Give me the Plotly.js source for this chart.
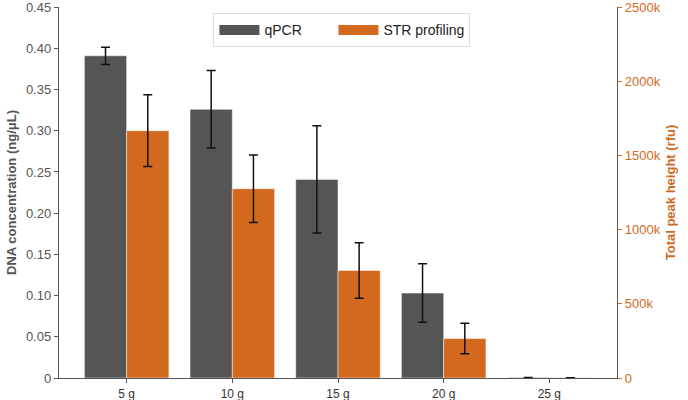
<!DOCTYPE html>
<html><head><meta charset="utf-8">
<script src="https://cdn.plot.ly/plotly-3.0.1.min.js"></script>
<style>html,body{margin:0;padding:0;background:#fff}#c{width:688px;height:400px}</style>
</head><body><div id="c"></div>
<script>
const categories = ["5 g", "10 g", "15 g", "20 g", "25 g"];
const qpcrValues = [0.391, 0.326, 0.241, 0.103, 0.0006];
const qpcrErrors = [0.0105, 0.047, 0.065, 0.0355, 0];
const strValues = [1667000, 1276000, 725000, 266000, 2000];
const strErrors = [242000, 228000, 187000, 103000, 0];
const leftTicks = [0, 0.05, 0.10, 0.15, 0.20, 0.25, 0.30, 0.35, 0.40, 0.45];
const leftTickText = ["0", "0.05", "0.10", "0.15", "0.20", "0.25", "0.30", "0.35", "0.40", "0.45"];
const rightTicks = [0, 500000, 1000000, 1500000, 2000000, 2500000];
const rightTickText = ["0", "500k", "1000k", "1500k", "2000k", "2500k"];

const gray = "#555555", orange = "#D2691E", axisCol = "#555555";
const font = "Liberation Sans, Arial, sans-serif";

const traces = [
  {type: "bar", name: "qPCR", x: categories, y: qpcrValues, yaxis: "y", showlegend: false,
   width: 0.4, offset: -0.4,
   marker: {color: gray, line: {color: "rgba(255,255,255,0.6)", width: 0.8}},
   error_y: {type: "data", array: qpcrErrors, visible: true, color: "#111", thickness: 1.5, width: 4.5}},
  {type: "bar", name: "STR profiling", x: categories, y: strValues, yaxis: "y2", showlegend: false,
   width: 0.4, offset: 0,
   marker: {color: orange, line: {color: "rgba(255,255,255,0.6)", width: 0.8}},
   error_y: {type: "data", array: strErrors, visible: true, color: "#111", thickness: 1.5, width: 4.5}},
  {type: "scatter", mode: "lines", name: "qPCR", x: [null], y: [null], yaxis: "y", legendwidth: 64,
   line: {color: gray, width: 11}, hoverinfo: "skip"},
  {type: "scatter", mode: "lines", name: "STR profiling", x: [null], y: [null], yaxis: "y",
   line: {color: orange, width: 11}, hoverinfo: "skip"}
];

const layout = {
  width: 688, height: 400,
  margin: {l: 59, r: 71, t: 7, b: 22},
  paper_bgcolor: "#fff", plot_bgcolor: "#fff",
  font: {family: font, size: 13, color: "#444"},
  barmode: "overlay",
  showlegend: true,
  legend: {orientation: "h", x: 0.507, xanchor: "center", y: 0.983, yanchor: "top",
           bgcolor: "rgba(255,255,255,0.9)", bordercolor: "#ddd", borderwidth: 1,
           font: {size: 14, color: "#222"}, itemwidth: 40, tracegroupgap: 0},
  xaxis: {type: "category", range: [-0.64, 4.64], showline: true, linecolor: axisCol, linewidth: 1.2,
          ticks: "outside", ticklen: 4, tickcolor: axisCol, tickfont: {size: 12, color: "#333"},
          showgrid: false, zeroline: false, fixedrange: true},
  yaxis: {range: [0, 0.4502], tickvals: leftTicks, ticktext: leftTickText, ticklabeloverflow: "allow",
          showline: true, linecolor: axisCol, linewidth: 1.2, ticks: "outside", ticklen: 4, tickcolor: axisCol,
          tickfont: {size: 13, color: "#555"}, showgrid: false, zeroline: false,
          title: {text: "<b>DNA concentration (ng/μL)</b>", font: {size: 13, color: "#555"}, standoff: 6}},
  yaxis2: {range: [0, 2501000], overlaying: "y", side: "right", tickvals: rightTicks, ticktext: rightTickText,
           ticklabeloverflow: "allow",
           showline: true, linecolor: axisCol, linewidth: 1.2, ticks: "outside", ticklen: 4, tickcolor: orange,
           tickfont: {size: 13, color: orange}, showgrid: false, zeroline: false,
           title: {text: "<b>Total peak height (rfu)</b>", font: {size: 13, color: orange}, standoff: 6}}
};

Plotly.newPlot("c", traces, layout, {displayModeBar: false, staticPlot: true});
</script></body></html>
